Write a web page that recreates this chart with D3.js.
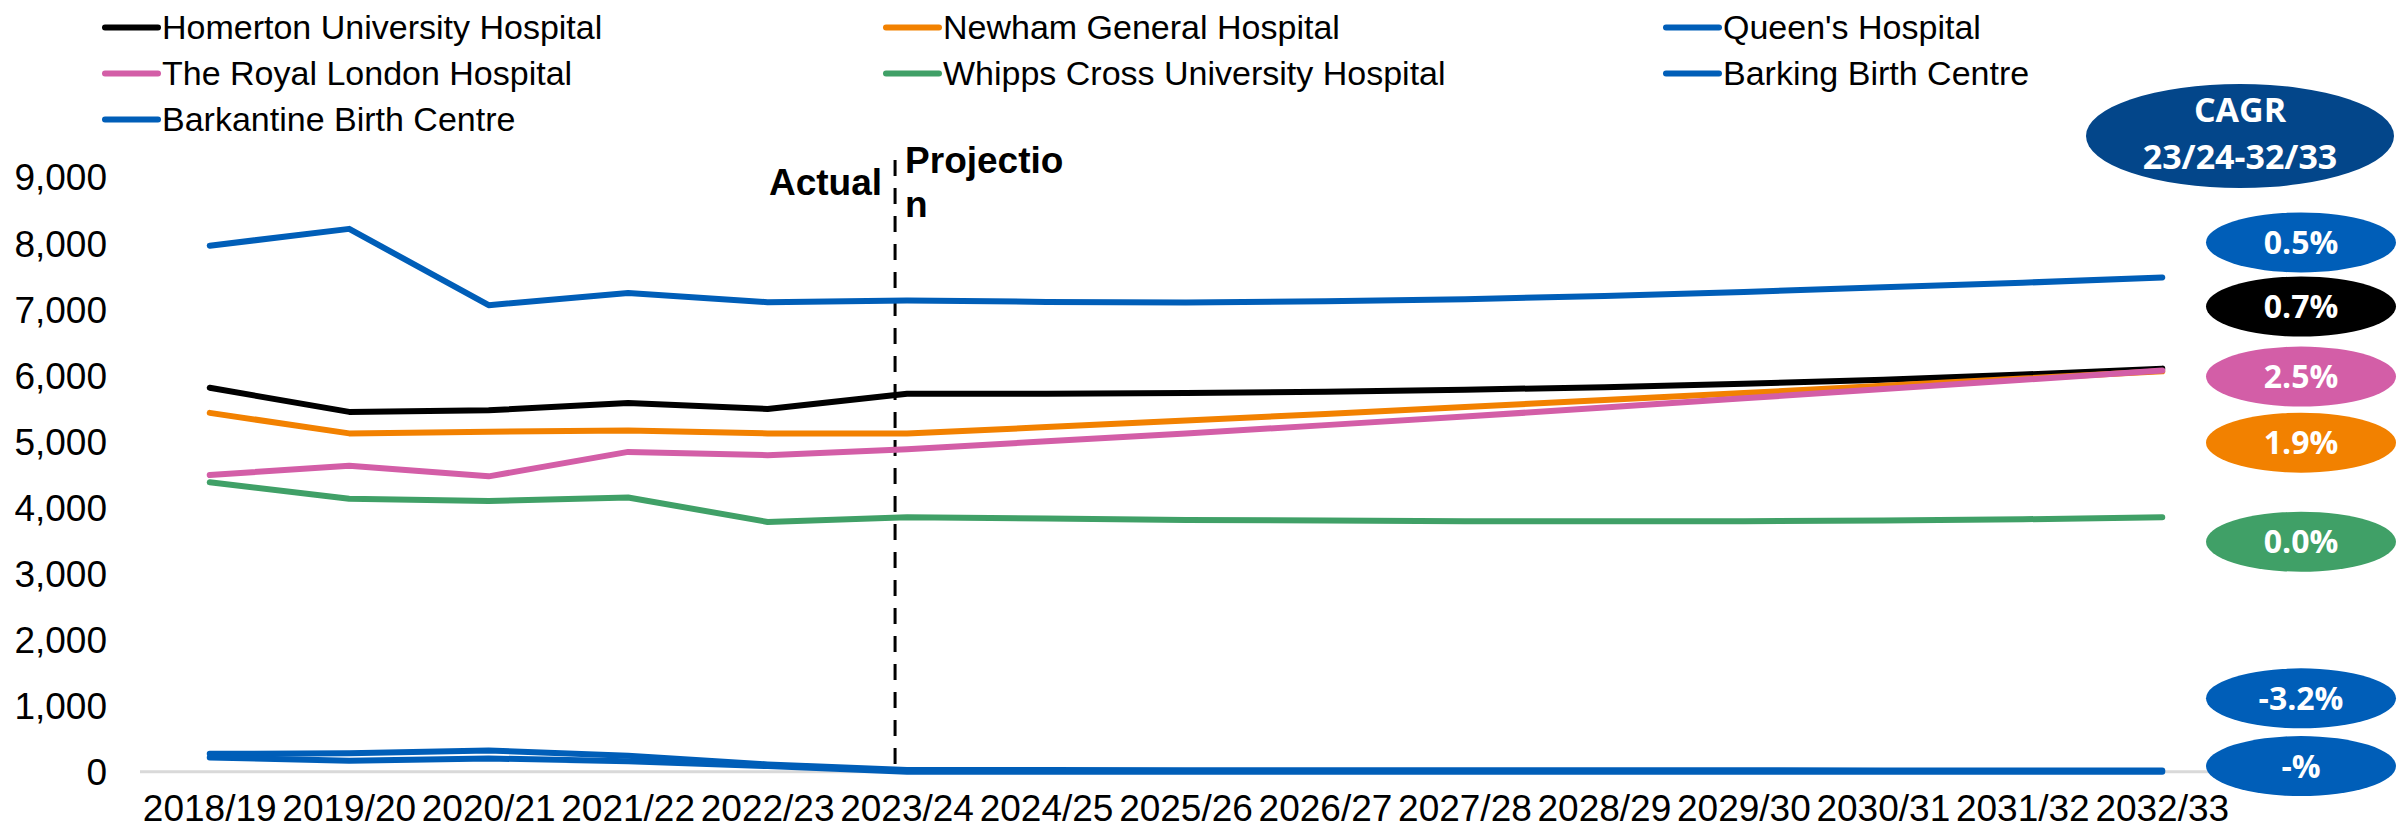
<!DOCTYPE html>
<html lang="en">
  <head>
    <meta charset="utf-8">
    <title>Births by site</title>
    <script src="https://cdn.jsdelivr.net/npm/d3@7"></script>
    <style type="text/css">
      body { margin: 0; background: #fff; }
      text { font-family: "Liberation Sans", Arial, sans-serif; fill: #000; }
      .series { fill: none; stroke-width: 6; stroke-linejoin: round; stroke-linecap: round; }
      .bubble text { font-family: "Open Sans", sans-serif; font-weight: 700; fill: #fff; }
    </style>
  </head>
  <body>
    <svg width="2397" height="831"></svg>
    <script type="text/javascript">
      // ---- data ----
      var years = ["2018/19", "2019/20", "2020/21", "2021/22", "2022/23", "2023/24", "2024/25",
                   "2025/26", "2026/27", "2027/28", "2028/29", "2029/30", "2030/31", "2031/32", "2032/33"];

      var names = ["Homerton University Hospital", "Newham General Hospital", "Queen's Hospital",
                   "The Royal London Hospital", "Whipps Cross University Hospital",
                   "Barking Birth Centre", "Barkantine Birth Centre"];

      var homerton    = [5810, 5445, 5470, 5580, 5490, 5720, 5720, 5730, 5750, 5780, 5820, 5870, 5930, 6010, 6100];
      var newham      = [5430, 5120, 5145, 5165, 5120, 5120, 5215, 5315, 5415, 5520, 5625, 5730, 5840, 5950, 6060];
      var queens      = [7960, 8215, 7060, 7245, 7105, 7130, 7110, 7100, 7120, 7150, 7200, 7260, 7330, 7400, 7480];
      var royalLondon = [4490, 4630, 4470, 4840, 4790, 4880, 5000, 5120, 5245, 5375, 5510, 5650, 5790, 5930, 6070];
      var whipps      = [4380, 4130, 4095, 4150, 3780, 3850, 3830, 3810, 3800, 3790, 3790, 3790, 3800, 3820, 3850];
      var barking     = [270, 280, 320, 240, 110, 25, 24, 23, 23, 22, 21, 21, 20, 20, 19];
      var barkantine  = [215, 165, 200, 160, 85, 0, 0, 0, 0, 0, 0, 0, 0, 0, 0];

      var colors = ["#000000", "#F28100", "#005EB8", "#D35EA7", "#40A067", "#005EB8", "#005EB8"];

      // CAGR 23/24-32/33 bubbles, listed top to bottom, with the series they belong to
      var cagrLabels = ["0.5%", "0.7%", "2.5%", "1.9%", "0.0%", "-3.2%", "-%"];
      var cagrSeries = [2, 0, 3, 1, 4, 5, 6];
      var cagrAnchor = [8010, 7040, 5980, 4980, 3480, 1110, 85];   // y-axis value at bubble centre

      var yTicks = d3.range(0, 9001, 1000);
      var splitYear = "2023/24";

      var allSeries = [homerton, newham, queens, royalLondon, whipps, barking, barkantine];

      // ---- chart ----
      var svg = d3.select("svg");

      var x = d3.scaleBand().domain(years).range([140, 2232]);
      var cx = function(d) { return x(d) + x.bandwidth() / 2; };
      var y = d3.scaleLinear().domain([0, 9000]).range([771.7, 177]);

      // y axis
      svg.append("g")
          .attr("transform", "translate(110,0)")
          .call(d3.axisLeft(y).tickValues(yTicks).tickFormat(d3.format(",")).tickSize(0).tickPadding(3))
          .call(function(g) { g.select(".domain").remove(); })
          .selectAll("text")
          .attr("dy", "0.35em")
          .style("font-size", "37px")
          .style("font-family", "'Liberation Sans', Arial, sans-serif")
          .attr("fill", "#000");

      // baseline
      svg.append("line")
          .attr("x1", x.range()[0]).attr("x2", x.range()[1])
          .attr("y1", y(0)).attr("y2", y(0))
          .attr("stroke", "#D9D9D9")
          .attr("stroke-width", 3);

      // x axis
      svg.append("g")
          .attr("transform", "translate(0," + y(0) + ")")
          .call(d3.axisBottom(x).tickSize(0).tickPadding(23))
          .call(function(g) { g.select(".domain").remove(); })
          .selectAll("text")
          .style("font-size", "37px")
          .style("font-family", "'Liberation Sans', Arial, sans-serif")
          .attr("fill", "#000");

      // actual / projection divider
      var splitX = cx(splitYear) - 12;
      svg.append("line")
          .attr("x1", splitX).attr("x2", splitX)
          .attr("y1", 160).attr("y2", y(0))
          .attr("stroke", "#000")
          .attr("stroke-width", 3)
          .attr("stroke-dasharray", "16,12");

      svg.append("text")
          .attr("x", splitX - 13)
          .attr("y", 195)
          .attr("text-anchor", "end")
          .style("font-size", "37px")
          .style("font-weight", "bold")
          .text("Actual");

      var proj = svg.append("text")
          .attr("x", splitX + 10)
          .attr("y", 173)
          .style("font-size", "37px")
          .style("font-weight", "bold");
      proj.append("tspan").text("Projectio");
      proj.append("tspan").attr("x", splitX + 10).attr("dy", 44).text("n");

      // lines
      var line = d3.line()
          .x(function(d, i) { return cx(years[i]); })
          .y(function(d) { return y(d); });

      svg.selectAll(".series")
          .data(allSeries)
          .enter().append("path")
          .attr("class", "series")
          .attr("stroke", function(d, i) { return colors[i]; })
          .attr("d", line);

      // legend
      var legendCols = [105, 886, 1666];
      var legend = svg.selectAll(".legend")
          .data(names)
          .enter().append("g")
          .attr("class", "legend")
          .attr("transform", function(d, i) {
            return "translate(" + legendCols[i % 3] + "," + (27.5 + Math.floor(i / 3) * 46) + ")";
          });

      legend.append("line")
          .attr("x1", 0).attr("x2", 53)
          .attr("stroke", function(d, i) { return colors[i]; })
          .attr("stroke-width", 6)
          .attr("stroke-linecap", "round");

      legend.append("text")
          .attr("x", 57)
          .attr("dy", "0.35em")
          .style("font-size", "34px")
          .text(function(d) { return d; });

      // CAGR header
      var head = svg.append("g").attr("class", "bubble");
      head.append("ellipse")
          .attr("cx", 2240).attr("cy", 136)
          .attr("rx", 154).attr("ry", 52)
          .attr("fill", "#03468A");
      head.append("text")
          .attr("x", 2240).attr("y", 110).attr("dy", "0.36em")
          .attr("text-anchor", "middle")
          .style("font-size", "34px")
          .text("CAGR");
      head.append("text")
          .attr("x", 2240).attr("y", 157).attr("dy", "0.36em")
          .attr("text-anchor", "middle")
          .style("font-size", "34px")
          .text("23/24-32/33");

      // CAGR bubbles
      var bubbles = svg.selectAll(".cagr")
          .data(cagrLabels)
          .enter().append("g")
          .attr("class", "bubble cagr")
          .attr("transform", function(d, i) { return "translate(2301," + y(cagrAnchor[i]) + ")"; });

      bubbles.append("ellipse")
          .attr("rx", 95).attr("ry", 30)
          .attr("fill", function(d, i) { return colors[cagrSeries[i]]; });

      bubbles.append("text")
          .attr("text-anchor", "middle")
          .attr("dy", "0.36em")
          .style("font-size", "32px")
          .text(function(d) { return d; });
    </script>
  </body>
</html>
